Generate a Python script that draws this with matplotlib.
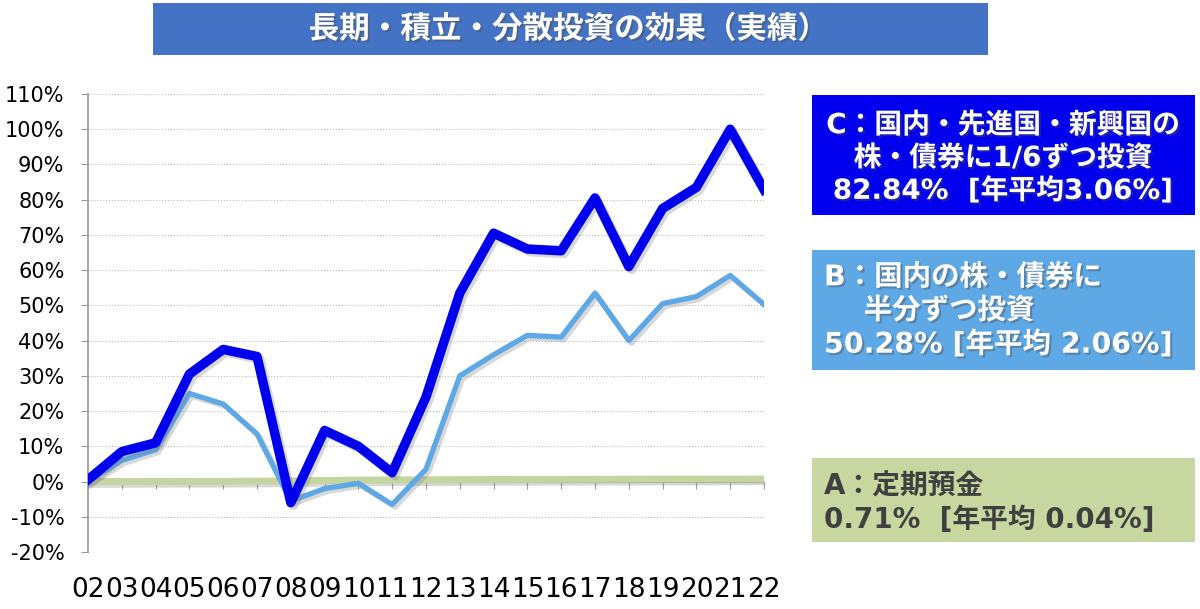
import matplotlib
matplotlib.use("Agg")
import matplotlib.pyplot as plt
import matplotlib.patheffects as pe
from matplotlib.patches import Rectangle

# データ
years = ['02', '03', '04', '05', '06', '07', '08', '09', '10', '11', '12',
         '13', '14', '15', '16', '17', '18', '19', '20', '21', '22']
c_vals = [0.5, 8.5, 11, 30.5, 37.5, 35.5, -6, 14.5, 10, 2.5, 24,
          53.5, 70.5, 66, 65.5, 80.5, 61, 77.5, 83.5, 100, 82.84]
b_vals = [0, 6, 9, 25, 22, 13.5, -5.5, -2, -0.5, -6.5, 3.5,
          30, 36, 41.5, 41, 53.5, 40, 50.5, 52.5, 58.5, 50.28]
a_vals = [0, 0.01, 0.02, 0.03, 0.05, 0.1, 0.2, 0.3, 0.4, 0.45, 0.5,
          0.55, 0.58, 0.6, 0.62, 0.64, 0.66, 0.68, 0.69, 0.7, 0.71]
y_ticks = list(range(-20, 111, 10))
y_labels = [str(v) + '%' for v in y_ticks]

title = '長期・積立・分散投資の効果（実績）'
c_text = 'C：国内・先進国・新興国の\n株・債券に1/6ずつ投資\n82.84%  [年平均3.06%]'
b_text = 'B：国内の株・債券に\n    半分ずつ投資\n50.28% [年平均 2.06%]'
a_text = 'A：定期預金\n0.71%  [年平均 0.04%]'

plt.rcParams['font.family'] = ['DejaVu Sans', 'Noto Sans CJK JP']
plt.rcParams['axes.unicode_minus'] = False

W, H = 1200, 609
fig = plt.figure(figsize=(W / 100, H / 100), dpi=100)


def box(x0, y0, x1, y1):
    # ピクセル座標 -> figure座標
    return (x0 / W, 1 - y1 / H), (x1 - x0) / W, (y1 - y0) / H


ax = fig.add_axes([88 / W, 1 - 552 / H, 676 / W, 458 / H])

shadow = [pe.SimpleLineShadow(offset=(2, -2), shadow_color='gray', alpha=0.3), pe.Normal()]
x = list(range(len(years)))
ax.plot(x, a_vals, color='#c5d5a0', lw=5, path_effects=shadow, zorder=3,
        solid_joinstyle='round')
ax.plot(x, b_vals, color='#5fa8e6', lw=3.8, path_effects=shadow, zorder=4,
        solid_joinstyle='round')
ax.plot(x, c_vals, color='#0000ee', lw=6.8, path_effects=shadow, zorder=5,
        solid_joinstyle='round')

ax.set_xlim(0, 20)
ax.set_ylim(-20, 110)
ax.set_yticks(y_ticks)
ax.set_yticklabels(y_labels)
ax.set_xticks(x)
ax.set_xticklabels(years)

ax.spines['top'].set_visible(False)
ax.spines['right'].set_visible(False)
ax.spines['bottom'].set_position(('data', 0))
ax.spines['bottom'].set_color('#999999')
ax.spines['left'].set_color('#999999')
ax.spines['left'].set_linewidth(1.2)
ax.grid(axis='y', ls=':', color='#bbbbbb', lw=0.8)
ax.set_axisbelow(True)
ax.tick_params(axis='x', length=5, color='#999999', pad=64, direction='out', labelsize=19)
ax.tick_params(axis='y', length=5, color='#999999', pad=12, direction='out', labelsize=15)

# タイトル
xy, w, h = box(153, 3, 988, 55)
fig.add_artist(Rectangle(xy, w, h, transform=fig.transFigure,
                         facecolor='#4472c4', edgecolor='none'))
fig.text(568 / W, 1 - 29 / H, title, fontsize=22, fontweight='bold', color='white',
         family=['Noto Sans CJK JP'], ha='center', va='center',
         path_effects=[pe.withSimplePatchShadow(offset=(1.5, -1.5), alpha=0.4)])

txt_shadow = [pe.withSimplePatchShadow(offset=(1.5, -1.5), alpha=0.4)]

# C
xy, w, h = box(812, 95, 1195, 215)
fig.add_artist(Rectangle(xy, w, h, transform=fig.transFigure,
                         facecolor='#0000ee', edgecolor='none'))
fig.text(1003 / W, 1 - 158 / H, c_text, fontsize=20, fontweight='bold', color='white',
         ha='center', va='center', linespacing=1.22, multialignment='center',
         path_effects=txt_shadow)

# B
xy, w, h = box(812, 250, 1195, 370)
fig.add_artist(Rectangle(xy, w, h, transform=fig.transFigure,
                         facecolor='#5fa8e6', edgecolor='none'))
fig.text(824 / W, 1 - 311 / H, b_text, fontsize=20.5, fontweight='bold', color='white',
         ha='left', va='center', linespacing=1.25, path_effects=txt_shadow)

# A
xy, w, h = box(812, 458, 1195, 542)
fig.add_artist(Rectangle(xy, w, h, transform=fig.transFigure,
                         facecolor='#c8d6a0', edgecolor='none'))
fig.text(824 / W, 1 - 503 / H, a_text, fontsize=20, fontweight='bold', color='#404040',
         ha='left', va='center', linespacing=1.25)

fig.savefig('out.png', dpi=100)
